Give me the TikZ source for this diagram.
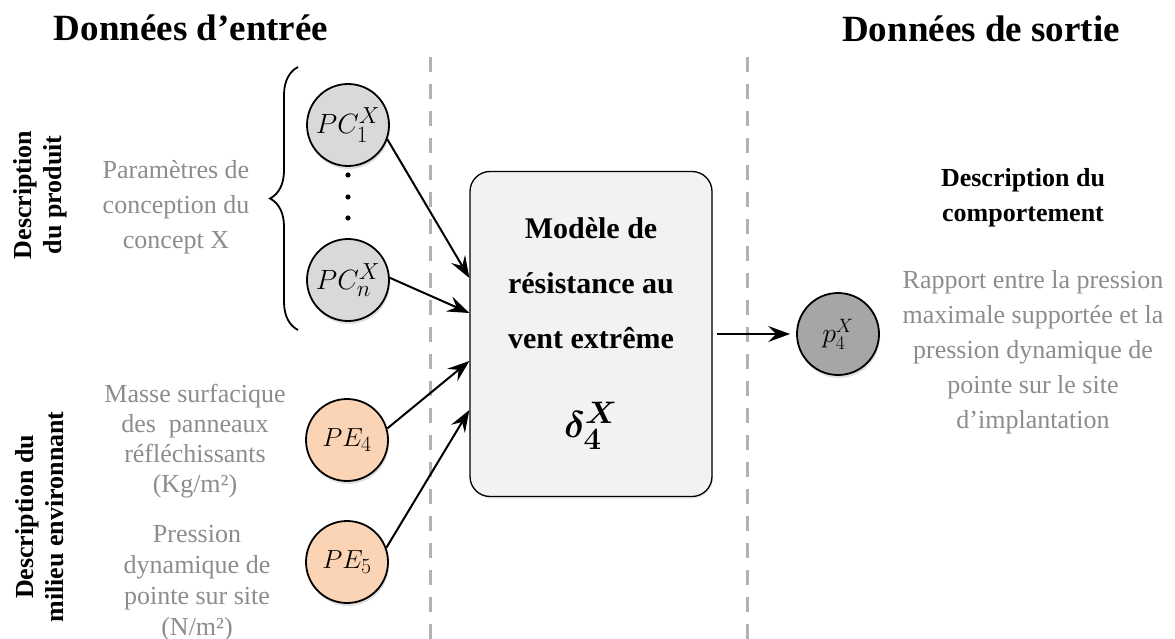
\documentclass[tikz,border=0pt]{standalone}
\usepackage{amsmath}
\usepackage{bm}
\usepackage{fontspec}
\setmainfont{Liberation Serif}
\usetikzlibrary{arrows.meta,shadows,decorations.pathreplacing}

\definecolor{txtgray}{RGB}{140,140,140}
\definecolor{sepgray}{RGB}{178,178,178}
\definecolor{pcfill}{RGB}{217,217,217}
\definecolor{pefill}{RGB}{250,212,180}
\definecolor{outfill}{RGB}{166,166,166}
\definecolor{boxfill}{RGB}{242,242,242}

% enlarged math symbol for the circles
\newcommand{\sym}[2][1.12]{\scalebox{#1}{$#2$}}

\begin{document}
\begin{tikzpicture}[x=1pt,y=-1pt,
  title/.style={font=\fontsize{37}{44}\selectfont\bfseries, anchor=base},
  sidelabel/.style={font=\fontsize{26}{30}\selectfont\bfseries, rotate=90, align=center},
  note/.style={font=\fontsize{26}{#1}\selectfont, text=txtgray, align=center, anchor=base},
  note/.default=35,
  head/.style={font=\fontsize{26}{35}\selectfont\bfseries, align=center, anchor=base},
  param/.style={circle, draw, line width=1.8pt, minimum size=82pt, inner sep=0pt,
    font=\fontsize{24.88}{30}\selectfont,
    drop shadow={opacity=0.25, shadow xshift=1pt, shadow yshift=-3pt}},
  sep/.style={draw=sepgray, line width=3pt, dash pattern=on 15pt off 12pt},
  conn/.style={-{Stealth[length=22pt,width=16pt,inset=8pt]}, line width=2pt},
  boxtext/.style={font=\fontsize{30}{36}\selectfont\bfseries, anchor=base}
]
\useasboundingbox (0,0) rectangle (1175,639);

% titles
\node[title] (tin) at (191,41) {Données d’entrée};
\node[title] (tout) at (981,42) {Données de sortie};

% column separators
\draw[sep] (430,57) -- (430,639);
\draw[sep] (747,57) -- (747,639);

% side labels
\node[sidelabel] (sprod) at (40,195) {Description\\du produit};
\node[sidelabel] (smil) at (40,517) {Description du\\milieu environnant};

% input descriptions (positioned on the baseline of their last line)
\node[note] (dpc) at (176,248) {Paramètres de\\conception du\\concept X};
\node[note=30] (dpe4) at (195,492) {Masse surfacique\\des\ \ panneaux\\réfléchissants\\(Kg/m²)};
\node[note=31] (dpe5) at (197,635) {Pression\\dynamique de\\pointe sur site\\(N/m²)};

% brace grouping the design parameters
\draw[line width=1.8pt, decorate, decoration={brace, amplitude=28pt}] (298,330) -- (298,67);

% input parameters
\node[param, fill=pcfill] (pc1) at (348,125) {\sym{PC_1^X}};
\node[param, fill=pcfill] (pcn) at (348,280) {\sym{PC_n^X}};
\node[param, fill=pefill] (pe4) at (347,440) {\sym[1.05]{PE_4}};
\node[param, fill=pefill] (pe5) at (347,562) {\sym[1.05]{PE_5}};
\foreach \yy in {175,197,218} \fill (348,\yy) circle (2.6pt);

% model box
\node[draw, line width=1.3pt, fill=boxfill, rounded corners=20pt,
      minimum width=242pt, minimum height=325pt,
      drop shadow={opacity=0.15, shadow xshift=1pt, shadow yshift=-2pt}]
      (box) at (591,334) {};
\node[boxtext] (m1) at (591,238) {Modèle de};
\node[boxtext] (m2) at (591,293) {résistance au};
\node[boxtext] (m3) at (591,348) {vent extrême};
\node[anchor=base, font=\fontsize{24.88}{30}\selectfont] (delta) at (591,437)
      {\scalebox{1.5}{$\bm{\delta_4^X}$}};

% output
\node[param, fill=outfill, font=\fontsize{23}{28}\selectfont] (p4) at (838,334) {\sym{p_4^X}};
\node[head] (dout) at (1023,222) {Description du\\comportement};
\node[note] (dres) at (1033,428) {Rapport entre la pression\\maximale supportée et la\\pression dynamique de\\pointe sur le site\\d’implantation};

% connectors
\draw[conn] (pc1.-20) -- ([yshift=56pt]box.west);
\draw[conn] (pcn.3) -- ([yshift=21pt]box.west);
\draw[conn] (pe4.16) -- ([yshift=-27pt]box.west);
\draw[conn] (pe5.20) -- ([yshift=-76pt]box.west);
\draw[conn, shorten <=4pt, shorten >=6pt] (box.east) -- (p4);
\end{tikzpicture}
\end{document}
